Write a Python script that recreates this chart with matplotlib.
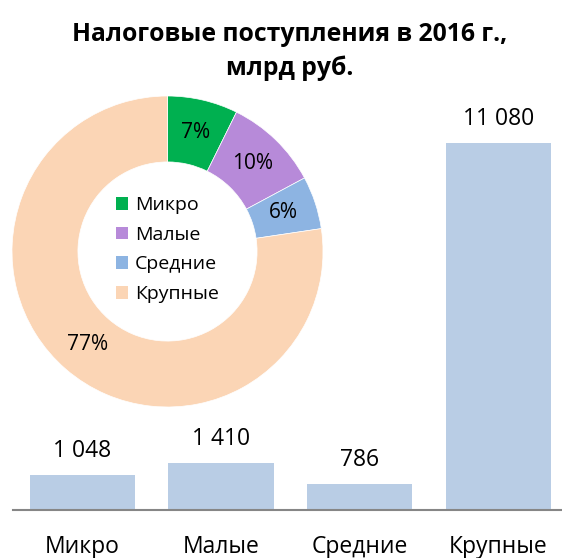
import matplotlib
matplotlib.use("Agg")
import matplotlib.pyplot as plt
from matplotlib.patches import Patch
import math

plt.rcParams['font.family'] = ['Open Sans', 'DejaVu Sans']

categories = ["Микро", "Малые", "Средние", "Крупные"]
values = [1048, 1410, 786, 11080]
pct_labels = ["7%", "10%", "6%", "77%"]
title = "Налоговые поступления в 2016 г.,\nмлрд руб."
donut_colors = ["#00B050", "#B78AD9", "#8DB4E2", "#FBD5B5"]
bar_color = "#B9CDE5"

W, H = 562, 558
fig = plt.figure(figsize=(W / 100, H / 100), dpi=100)

# Bar chart
base = 510
ax = fig.add_axes([13 / W, (H - base) / H, (W - 13) / W, 410 / H])
x = list(range(len(categories)))
ax.bar(x, values, width=0.76, color=bar_color, zorder=2)
ax.set_xlim(-0.5, 3.46)
ax.set_ylim(0, 12378)
for s in ["top", "left", "right"]:
    ax.spines[s].set_visible(False)
ax.spines["bottom"].set_color("#868686")
ax.spines["bottom"].set_linewidth(1.5)
ax.set_yticks([])
ax.set_xticks(x)
ax.set_xticklabels(categories, fontsize=16.5)
ax.tick_params(axis="x", length=0, pad=18)
for xi, v in zip(x, values):
    ax.annotate(f"{v:,}".replace(",", " "), (xi, v), xytext=(0, 13),
                textcoords="offset points", ha="center", va="baseline",
                fontsize=16.5)

# Donut
R = 155.5
cx, cy = 167.5, 251.5
dax = fig.add_axes([(cx - R) / W, (H - cy - R) / H, 2 * R / W, 2 * R / H])
wedges, texts = dax.pie(
    values, colors=donut_colors, startangle=90, counterclock=False, radius=1,
    wedgeprops=dict(width=0.424, edgecolor="white", linewidth=0.5))
for w, lab in zip(wedges, pct_labels):
    ang = math.radians((w.theta1 + w.theta2) / 2)
    r = 0.788
    dax.text(r * math.cos(ang), r * math.sin(ang), lab, ha="center",
             va="center", fontsize=15, color="black")
dax.set_xlim(-1, 1)
dax.set_ylim(-1, 1)
dax.set_aspect("equal")
handles = [Patch(facecolor=c, edgecolor="none") for c in donut_colors]
dax.legend(handles, categories, loc="center", bbox_to_anchor=(0.5, 0.506),
           frameon=False, fontsize=14, handlelength=0.62, handleheight=0.62,
           handletextpad=0.35, labelspacing=0.6)

fig.text(290 / W, 1 - 51.5 / H, title, ha="center", va="center",
         fontsize=17.8, fontweight="bold", linespacing=1.42)

fig.savefig("out.png", dpi=100)
